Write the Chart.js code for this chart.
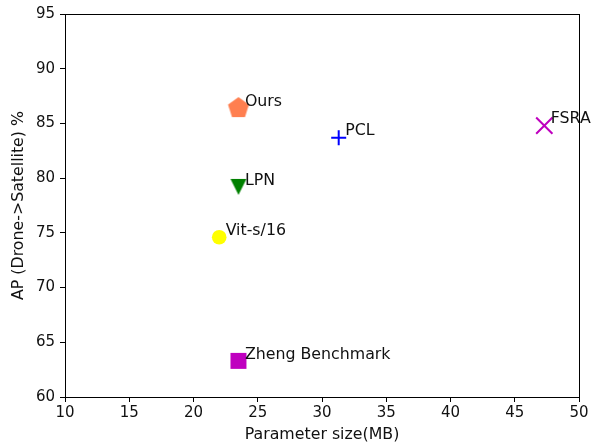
<!DOCTYPE html>
<html>
<head>
<meta charset="utf-8">
<script src="https://cdn.jsdelivr.net/npm/chart.js@4/dist/chart.umd.min.js"></script>
<style>
  html, body { margin: 0; padding: 0; background: #fff; }
  #wrap { width: 595px; height: 444px; position: relative; }
</style>
</head>
<body>
<div id="wrap"><canvas id="c"></canvas></div>
<script>
// Model names, parameter sizes (MB) and AP (Drone->Satellite, %)
const models = ['Ours', 'PCL', 'FSRA', 'LPN', 'Vit-s/16', 'Zheng Benchmark'];
const paramSize = [23.5, 31.3, 47.3, 23.5, 22.0, 23.5];
const apScore = [86.4, 83.7, 84.8, 79.2, 74.6, 63.3];

const xTicks = [10, 15, 20, 25, 30, 35, 40, 45, 50];
const yTicks = [60, 65, 70, 75, 80, 85, 90, 95];

const FONT = 'DejaVu Sans';
const TICK_SIZE = 15;
const TEXT_SIZE = 15.8;

// Custom marker shapes drawn on small off-screen canvases
function pentagonMarker(R, color) {
  const s = Math.ceil(R * 2 + 4);
  const cv = document.createElement('canvas');
  cv.width = s; cv.height = s;
  const g = cv.getContext('2d');
  g.beginPath();
  for (let i = 0; i < 5; i++) {
    const a = -Math.PI / 2 + i * 2 * Math.PI / 5;
    const px = s / 2 + R * Math.cos(a);
    const py = s / 2 + R * Math.sin(a);
    if (i === 0) g.moveTo(px, py); else g.lineTo(px, py);
  }
  g.closePath();
  g.fillStyle = color;
  g.fill();
  return cv;
}

function triangleDownMarker(half, color) {
  const s = Math.ceil(half * 2 + 2);
  const cv = document.createElement('canvas');
  cv.width = s; cv.height = s;
  const g = cv.getContext('2d');
  const c = s / 2;
  g.beginPath();
  g.moveTo(c - half, c - half);
  g.lineTo(c + half, c - half);
  g.lineTo(c, c + half);
  g.closePath();
  g.fillStyle = color;
  g.fill();
  return cv;
}

const styles = [
  { pointStyle: pentagonMarker(11, '#FF7F50'), color: '#FF7F50', radius: 11, bw: 0 },
  { pointStyle: 'cross', color: '#0000FF', radius: 7.5, bw: 2 },
  { pointStyle: 'crossRot', color: '#BF00BF', radius: 11.5, bw: 2 },
  { pointStyle: triangleDownMarker(8, '#008000'), color: '#008000', radius: 8, bw: 0 },
  { pointStyle: 'circle', color: '#FFFF00', radius: 7.3, bw: 0 },
  { pointStyle: 'rect', color: '#BF00BF', radius: 11.3, bw: 0 }
];

const datasets = models.map((name, i) => ({
  label: name,
  data: [{ x: paramSize[i], y: apScore[i] }],
  pointStyle: styles[i].pointStyle,
  pointRadius: styles[i].radius,
  pointHoverRadius: styles[i].radius,
  backgroundColor: styles[i].color,
  borderColor: styles[i].color,
  pointBorderWidth: styles[i].bw,
  showLine: false
}));

// Text labels next to each marker
const pointLabels = {
  id: 'pointLabels',
  afterDatasetsDraw(chart) {
    const { ctx, scales } = chart;
    ctx.save();
    ctx.font = TEXT_SIZE + 'px "' + FONT + '"';
    ctx.fillStyle = '#111';
    ctx.textAlign = 'left';
    ctx.textBaseline = 'alphabetic';
    models.forEach((name, i) => {
      const px = scales.x.getPixelForValue(paramSize[i] + 0.5);
      const py = scales.y.getPixelForValue(apScore[i] + 0.2);
      ctx.fillText(name, px, py);
    });
    ctx.restore();
  }
};

// Box frame around the plotting area
const frame = {
  id: 'frame',
  afterDraw(chart) {
    const { ctx, chartArea: a } = chart;
    ctx.save();
    ctx.strokeStyle = '#000';
    ctx.lineWidth = 1;
    ctx.strokeRect(Math.round(a.left) + 0.5, Math.round(a.top) + 0.5,
      Math.round(a.right - a.left), Math.round(a.bottom - a.top));
    ctx.restore();
  }
};

new Chart(document.getElementById('c'), {
  type: 'scatter',
  data: { datasets },
  options: {
    responsive: true,
    maintainAspectRatio: false,
    animation: false,
    devicePixelRatio: 1,
    layout: { padding: { left: 0, right: 16, top: 14, bottom: 0 } },
    plugins: { legend: { display: false }, tooltip: { enabled: false } },
    scales: {
      x: {
        type: 'linear',
        min: 10, max: 50,
        afterBuildTicks: (s) => { s.ticks = xTicks.map(v => ({ value: v })); },
        afterFit: (s) => { s.height = 47; },
        border: { display: false },
        grid: { drawOnChartArea: false, drawTicks: true, tickLength: 5, tickColor: '#000' },
        ticks: { color: '#111', padding: 2, font: { family: FONT, size: TICK_SIZE }, maxRotation: 0 },
        title: { display: true, text: 'Parameter size(MB)', color: '#111', padding: { top: 0, bottom: 0 }, font: { family: FONT, size: TEXT_SIZE } }
      },
      y: {
        type: 'linear',
        min: 60, max: 95,
        afterBuildTicks: (s) => { s.ticks = yTicks.map(v => ({ value: v })); },
        afterFit: (s) => { s.width = 65; },
        border: { display: false },
        grid: { drawOnChartArea: false, drawTicks: true, tickLength: 5, tickColor: '#000' },
        ticks: { color: '#111', padding: 5, font: { family: FONT, size: TICK_SIZE } },
        title: { display: true, text: 'AP (Drone->Satellite) %', color: '#111', padding: { top: 9, bottom: 0 }, font: { family: FONT, size: TEXT_SIZE } }
      }
    }
  },
  plugins: [pointLabels, frame]
});
</script>
</body>
</html>
